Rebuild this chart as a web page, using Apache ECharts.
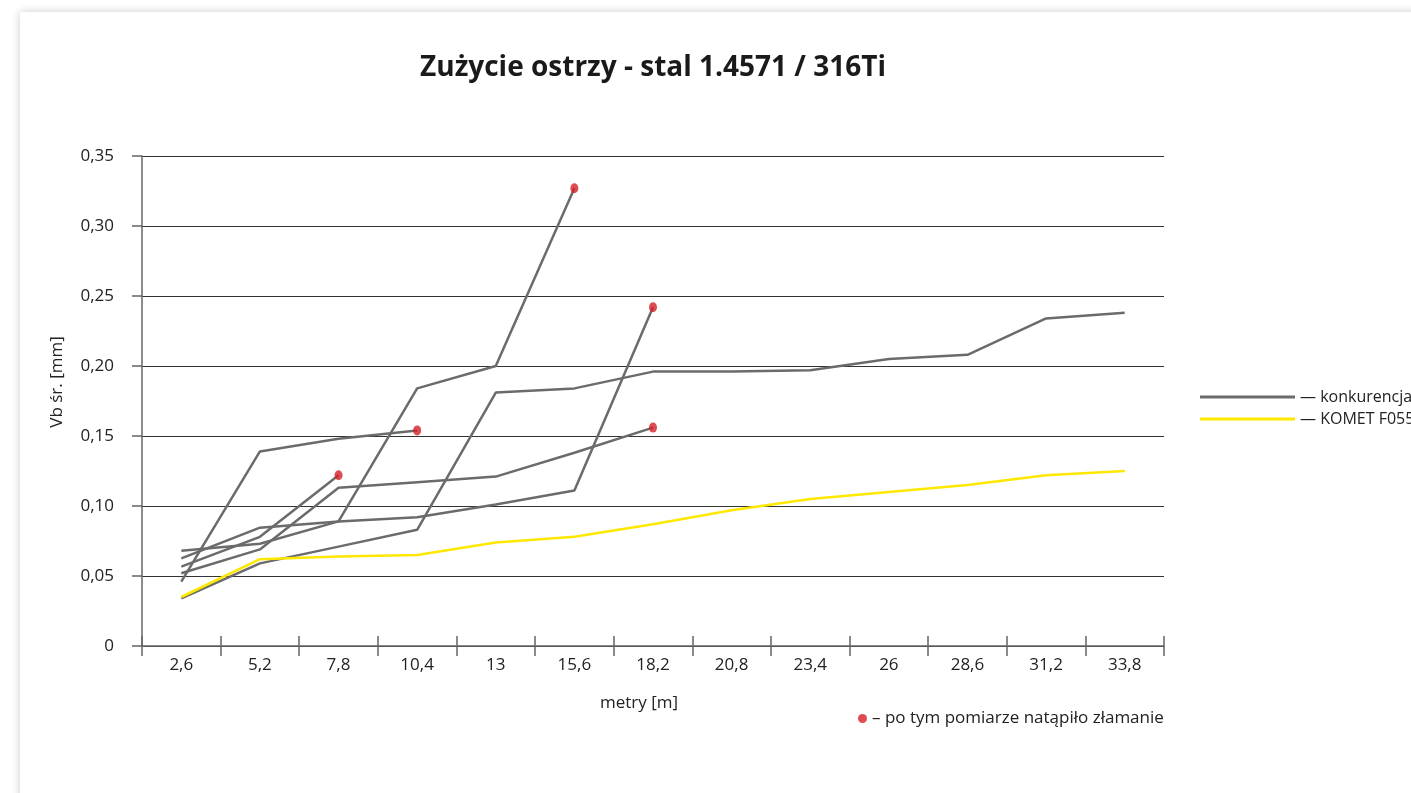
<!DOCTYPE html>
<html>
<head>
<meta charset="utf-8">
<script src="https://cdn.jsdelivr.net/npm/echarts@6/dist/echarts.min.js"></script>
<style>
html,body{margin:0;padding:0;background:#fff;width:1411px;height:793px;overflow:hidden;}
#card{position:absolute;left:20px;top:12px;width:1600px;height:900px;background:#fff;box-shadow:0 0 9px rgba(0,0,0,0.2);}
#chart{position:absolute;left:0;top:0;width:1411px;height:793px;}
</style>
</head>
<body>
<div id="card"></div>
<div id="chart"></div>
<script>
const categories = ['2,6','5,2','7,8','10,4','13','15,6','18,2','20,8','23,4','26','28,6','31,2','33,8'];
const yTicks = [0, 0.05, 0.10, 0.15, 0.20, 0.25, 0.30, 0.35];

// konkurencja (competitor) series
const comp1 = [0.068, 0.073, 0.089, 0.184, 0.200, 0.327];
const comp2 = [0.0626, 0.0845, 0.089, 0.092, 0.101, 0.111, 0.242];
const comp3 = [0.052, 0.069, 0.113, 0.117, 0.121, 0.138, 0.156];
const comp4 = [0.046, 0.139, 0.148, 0.154];
const comp5 = [0.0567, 0.078, 0.122];
const comp6 = [0.034, 0.059, 0.071, 0.083, 0.181, 0.184, 0.196, 0.196, 0.197, 0.205, 0.208, 0.234, 0.238];

// KOMET series
const komet = [0.035, 0.062, 0.064, 0.065, 0.074, 0.078, 0.087, 0.097, 0.105, 0.110, 0.115, 0.122, 0.125];

// break points: [category index, value]
const breaks = [[2, 0.122], [3, 0.154], [5, 0.327], [6, 0.242], [6, 0.156]];

const compName = 'konkurencja';
const kometName = 'KOMET F0550';
const breakName = '– po tym pomiarze natąpiło złamanie';

const GRAY = '#6b6b6b';
const YELLOW = '#ffe800';
const FONT = "'Open Sans', 'Noto Sans', sans-serif";

const compSeries = [comp1, comp2, comp3, comp4, comp5, comp6].map(d => ({
  name: compName, type: 'line', data: d, symbol: 'none', z: 3,
  lineStyle: {color: GRAY, width: 2.5}, itemStyle: {color: GRAY}
}));

const chart = echarts.init(document.getElementById('chart'), null, {renderer: 'canvas'});
chart.setOption({
  animation: false,
  backgroundColor: 'transparent',
  title: {
    text: 'Zużycie ostrzy - stal 1.4571 / 316Ti',
    left: 648, top: 49, textAlign: 'center',
    textStyle: {fontFamily: FONT, fontWeight: 'bold', fontSize: 28, color: '#1a1a1a'}
  },
  grid: {left: 142, right: 247, top: 156, bottom: 147, containLabel: false},
  legend: [
    {
      orient: 'vertical', left: 1195, top: 384, itemWidth: 95, itemHeight: 3, itemGap: 6,
      icon: 'rect', data: [compName, kometName],
      formatter: n => '— ' + n,
      textStyle: {fontFamily: FONT, fontSize: 16, color: '#222'}
    },
    {
      left: 853, top: 705, itemWidth: 9, itemHeight: 10, icon: 'circle',
      data: [breakName],
      textStyle: {fontFamily: FONT, fontSize: 17, color: '#222'}
    }
  ],
  xAxis: [
    {
      type: 'category', data: categories, boundaryGap: true,
      name: 'metry [m]', nameLocation: 'middle', nameGap: 49,
      nameTextStyle: {fontFamily: FONT, fontSize: 17, color: '#222', padding: [0, 28, 0, 0]},
      axisLine: {lineStyle: {color: '#666', width: 1.5}},
      axisTick: {show: true, length: 10, lineStyle: {color: '#666', width: 1.5}},
      axisLabel: {fontFamily: FONT, fontSize: 17, color: '#222', margin: 11},
      splitLine: {show: false}
    },
    {
      type: 'category', data: categories, boundaryGap: true, position: 'bottom',
      axisLine: {show: false},
      axisTick: {show: true, inside: true, length: 10, lineStyle: {color: '#666', width: 1.5}},
      axisLabel: {show: false}, splitLine: {show: false}
    }
  ],
  yAxis: {
    type: 'value', min: 0, max: 0.35, interval: 0.05,
    name: 'Vb śr. [mm]', nameLocation: 'middle', nameGap: 76, nameRotate: 90,
    nameTextStyle: {fontFamily: FONT, fontSize: 17, color: '#222', padding: [0, 0, 0, 38]},
    axisLine: {show: true, lineStyle: {color: '#666', width: 1.5}},
    axisTick: {show: true, length: 10, lineStyle: {color: '#666', width: 1.5}},
    axisLabel: {
      fontFamily: FONT, fontSize: 17, color: '#222', margin: 28,
      formatter: v => { const t = yTicks.find(x => Math.abs(x - v) < 1e-9); const val = t === undefined ? v : t; return val === 0 ? '0' : val.toFixed(2).replace('.', ','); }
    },
    splitLine: {show: true, lineStyle: {color: '#333', width: 1}}
  },
  series: [
    ...compSeries,
    {
      name: kometName, type: 'line', data: komet, symbol: 'none', z: 4,
      lineStyle: {color: YELLOW, width: 2.5}, itemStyle: {color: YELLOW}
    },
    {
      name: breakName, type: 'scatter', data: breaks, symbol: 'circle', symbolSize: [8, 10], z: 6,
      itemStyle: {color: '#d41f28'}
    }
  ]
});
</script>
</body>
</html>
